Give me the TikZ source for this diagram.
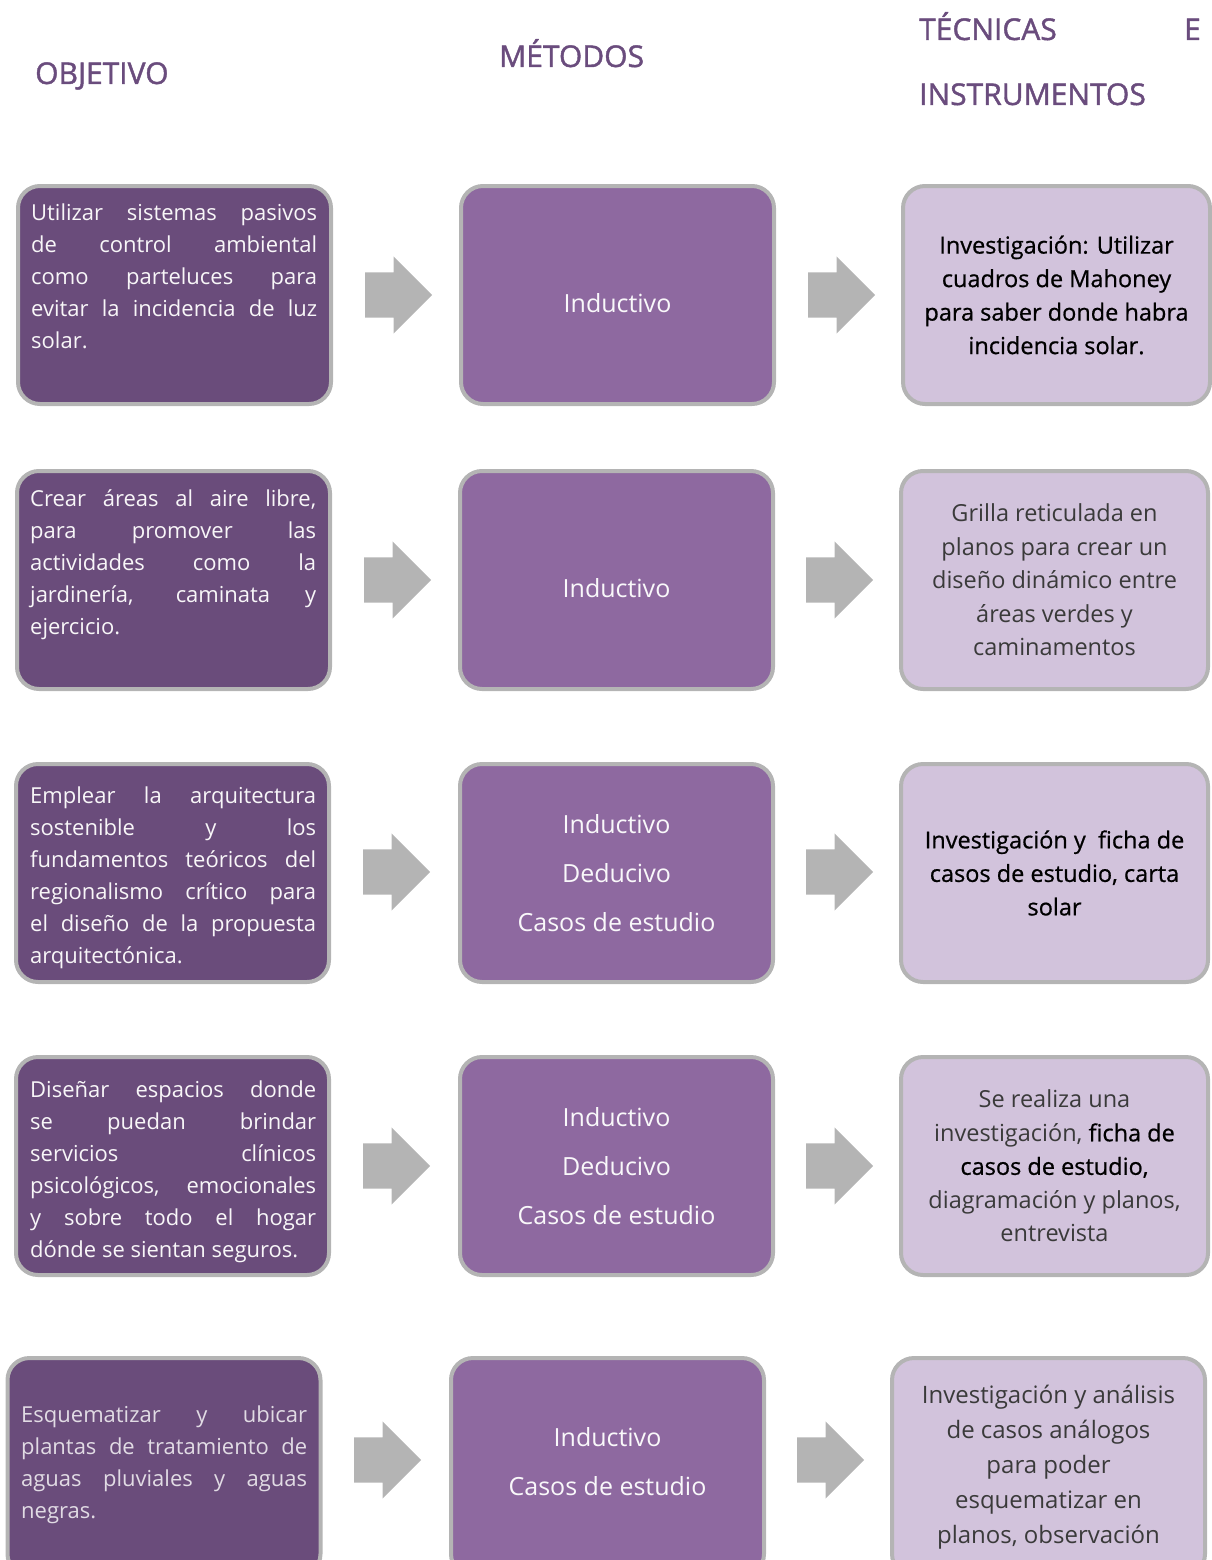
\documentclass[tikz,border=0pt]{standalone}
\usepackage{fontspec}
\setmainfont{Open Sans}
\newfontfamily\semifuerte{Open Sans}[FakeBold=0.7]
\newfontfamily\titfuerte{Open Sans}[FakeBold=1.4]
\usetikzlibrary{shapes.arrows}

\definecolor{objfill}{HTML}{6A4C7B}
\definecolor{metfill}{HTML}{8E69A0}
\definecolor{tecfill}{HTML}{D2C3DC}
\definecolor{bordegris}{HTML}{B4B4B4}
\definecolor{titulocol}{HTML}{6A4C7D}
\definecolor{tenue}{HTML}{3A3A3A}

\tikzset{
  caja/.style={draw=bordegris, line width=4pt, rounded corners=22pt,
    minimum width=313pt, minimum height=218pt, inner sep=0pt},
  objcaja/.style={caja, fill=objfill},
  metcaja/.style={caja, fill=metfill, text=white!95!metfill, align=center,
    font=\fontsize{25}{49}\selectfont},
  teccaja/.style={caja, minimum width=307pt, fill=tecfill, text=black, align=center,
    font=\fontsize{23.5}{33.5}\selectfont},
  objtexto/.style={text=white!95!objfill, text width=286pt, align=justify,
    inner sep=0pt, anchor=north west, font=\fontsize{22}{32}\selectfont},
  flecha/.style={single arrow, fill=bordegris, draw=none, anchor=west,
    single arrow head extend=16pt, single arrow head indent=0pt,
    minimum height=67pt, minimum width=77pt, inner sep=0pt,
    text height=45pt, text depth=0pt, text width=0pt},
  titulo/.style={text=titulocol, anchor=base west, inner sep=0pt,
    font=\titfuerte\fontsize{30}{36}\selectfont}
}

\begin{document}
\begin{tikzpicture}[x=1pt,y=-1pt]
\useasboundingbox (0,0) rectangle (1212,1560);

% encabezados
\node[titulo] (hobj) at (35,84) {OBJETIVO};
\node[titulo] (hmet) at (499,67) {MÉTODOS};
\node[titulo] (htec) at (919,40) {TÉCNICAS};
\node[titulo, anchor=base east] (htece) at (1201,40) {E};
\node[titulo] (hins) at (919,105) {INSTRUMENTOS};

% fila 1
\node[objcaja] (o1) at (174.5,295) {};
\node[objtexto] (o1t) at (31,204) {Utilizar sistemas pasivos\linebreak de control ambiental\linebreak como parteluces para\linebreak evitar la incidencia de luz\linebreak solar.};
\node[metcaja, text height=36pt] (m1) at (617.5,295) {Inductivo};
\node[teccaja, font=\semifuerte\fontsize{23.5}{33.5}\selectfont] (t1) at (1056.5,295) {Investigación: Utilizar\\cuadros de Mahoney\\para saber donde habra\\incidencia solar.};
\node[flecha] (f1a) at (365,295) {};
\node[flecha] (f1b) at (808,295) {};

% fila 2
\node[objcaja] (o2) at (173.5,580) {};
\node[objtexto] (o2t) at (30,489) {Crear áreas al aire libre,\linebreak para promover las\linebreak actividades como la\linebreak jardinería, caminata y\linebreak ejercicio.};
\node[metcaja, text height=36pt] (m2) at (616.5,580) {Inductivo};
\node[teccaja, text=tenue] (t2) at (1054.5,580) {Grilla reticulada en\\planos para crear un\\diseño dinámico entre\\áreas verdes y\\caminamentos};
\node[flecha] (f2a) at (364,580) {};
\node[flecha] (f2b) at (806,580) {};

% fila 3
\node[objcaja] (o3) at (172.5,873) {};
\node[objtexto] (o3t) at (30,787) {Emplear la arquitectura\linebreak sostenible y los\linebreak fundamentos teóricos del\linebreak regionalismo crítico para\linebreak el diseño de la propuesta\linebreak arquitectónica.};
\node[metcaja] (m3) at (616.5,873) {Inductivo\\Deducivo\\Casos de estudio};
\node[teccaja, font=\semifuerte\fontsize{23.5}{33.5}\selectfont] (t3) at (1054.5,873) {Investigación y~ ficha de\\casos de estudio, carta\\solar};
\node[flecha] (f3a) at (363,872) {};
\node[flecha] (f3b) at (806,872) {};

% fila 4
\node[objcaja] (o4) at (172.5,1166) {};
\node[objtexto] (o4t) at (30,1081) {Diseñar espacios donde\linebreak se puedan brindar\linebreak servicios clínicos\linebreak psicológicos, emocionales\linebreak y sobre todo el hogar\linebreak dónde se sientan seguros.};
\node[metcaja] (m4) at (616.5,1166) {Inductivo\\Deducivo\\Casos de estudio};
\node[teccaja, text=tenue] (t4) at (1054.5,1166) {Se realiza una\\investigación, {\semifuerte\color{black}ficha de}\\{\semifuerte\color{black}casos de estudio,}\\diagramación y planos,\\entrevista};
\node[flecha] (f4a) at (363,1166) {};
\node[flecha] (f4b) at (806,1166) {};

% fila 5
\node[objcaja] (o5) at (164,1467) {};
\node[objtexto, text=objfill!20!white] (o5t) at (21,1406) {Esquematizar y ubicar\linebreak plantas de tratamiento de\linebreak aguas pluviales y aguas\linebreak negras.};
\node[metcaja, text depth=12pt] (m5) at (607.5,1467) {Inductivo\\Casos de estudio};
\node[teccaja, minimum width=313pt, text=tenue, font=\fontsize{24}{35}\selectfont] (t5) at (1048.5,1467) {Investigación y análisis\\de casos análogos\\para poder\\esquematizar en\\planos, observación};
\node[flecha] (f5a) at (354,1460) {};
\node[flecha] (f5b) at (797,1460) {};
\end{tikzpicture}
\end{document}
